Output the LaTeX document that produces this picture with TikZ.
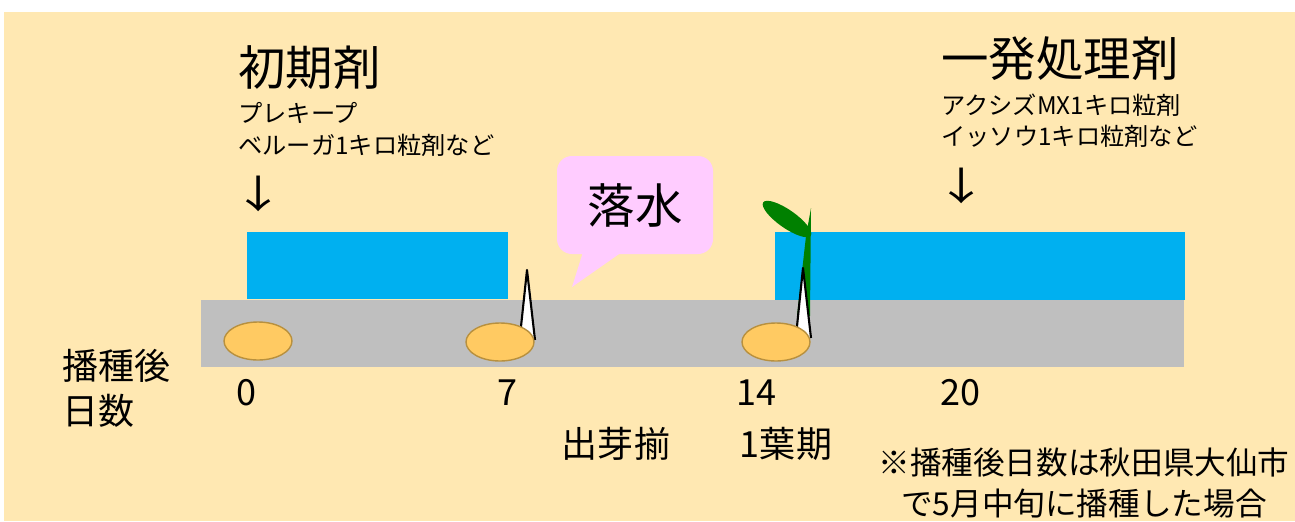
\documentclass[tikz,border=0pt]{standalone}
\usepackage{fontspec}
\setmainfont{Noto Sans CJK JP}
\usetikzlibrary{positioning}

\definecolor{paper}{HTML}{FFE8B2}
\definecolor{water}{HTML}{00B0F0}
\definecolor{soil}{HTML}{BFBFBF}
\definecolor{seed}{HTML}{FFCA62}
\definecolor{seededge}{HTML}{B8903E}
\definecolor{bubble}{HTML}{FFCCFF}
\definecolor{leaf}{HTML}{008000}

\tikzset{
  big/.style={inner sep=0pt, font=\fontsize{27}{31}\selectfont},
  small/.style={inner sep=0pt, font=\fontsize{13.8}{16}\selectfont},
  mid/.style={inner sep=0pt, font=\fontsize{20.5}{24}\selectfont},
  note/.style={inner sep=0pt, font=\fontsize{18}{21}\selectfont},
  down/.style={inner sep=0pt, font=\fontsize{22}{26}\selectfont},
  grain/.style={fill=seed, draw=seededge, line width=0.8pt},
  shoot/.style={fill=white, draw=black, line width=1.2pt, line join=round}
}

\begin{document}
\begin{tikzpicture}[x=0.02cm, y=-0.02cm]
\useasboundingbox (0,0) rectangle (1295,521);
\fill[white] (0,0) rectangle (1295,521);
\fill[paper] (4,12) rectangle (1295,521);

% flooded periods and the soil
\fill[water] (247,232) rectangle (508,299);
\fill[water] (775,232) rectangle (1185,300);
\fill[soil] (201,300) rectangle (1184,367);

% leaf of the second seedling
\fill[leaf] (797,316) -- (806,236) -- (811,208) -- (810,316) -- cycle;
\fill[leaf, rotate around={-35:(787,219)}] (787,219) ellipse [x radius=29, y radius=9];

% sprouts
\draw[shoot] (520,336) -- (527,270) -- (535,340);
\draw[shoot] (796,336) -- (803,268) -- (811,338);

% seeds
\draw[grain] (258,341) ellipse [x radius=34, y radius=19];
\draw[grain] (500,342) ellipse [x radius=34, y radius=19];
\draw[grain] (776,342) ellipse [x radius=34, y radius=19];

% speech bubble
\fill[bubble, rounded corners=0.3cm] (557,156) rectangle (713,254);
\fill[bubble] (583,252) -- (572,287) -- (622,252) -- cycle;
\node[big] (ochi) at (635,205) {落水};

% herbicides
\node[big, anchor=west] (shoki) at (238,68) {初期剤};
\node[small, anchor=west] (shoki1) at (238,113) {プレキープ};
\node[small, anchor=west] (shoki2) at (238,145) {ベルーガ1キロ粒剤など};
\node[down] (ya1) at (259,194) {\scalebox{1.35}[1]{↓}};

\node[big, anchor=west] (ippatsu) at (941,59) {一発処理剤};
\node[small, anchor=west] (ippatsu1) at (941,105) {アクシズMX1キロ粒剤};
\node[small, anchor=west] (ippatsu2) at (941,136) {イッソウ1キロ粒剤など};
\node[down] (ya2) at (962,186) {\scalebox{1.35}[1]{↓}};

% days after sowing
\node[mid, anchor=west] (hashu) at (62,366) {播種後};
\node[mid, anchor=west] (nissu) at (62,411) {日数};
\node[mid] (d0) at (246,393) {0};
\node[mid] (d7) at (507,393) {7};
\node[mid] (d14) at (756,393) {14};
\node[mid] (d20) at (960,393) {20};

\node[mid] (shutsuga) at (616,444) {出芽揃};
\node[mid] (yoki) at (786,444) {1葉期};

\node[note] (chu1) at (1084,462) {※播種後日数は秋田県大仙市};
\node[note] (chu2) at (1084,504) {で5月中旬に播種した場合};
\end{tikzpicture}
\end{document}
